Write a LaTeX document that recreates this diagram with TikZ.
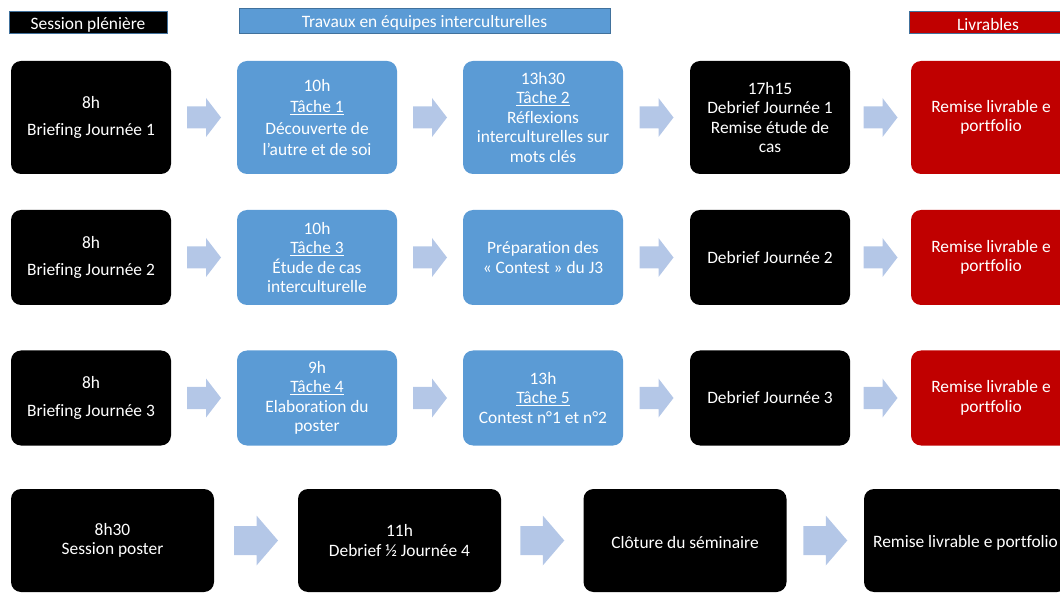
\documentclass[tikz,border=0pt]{standalone}
\usepackage{fontspec}
\setmainfont[Ligatures=CommonOff]{Carlito}
\usetikzlibrary{calc}
\definecolor{bblue}{HTML}{5B9BD5}
\definecolor{bred}{HTML}{C00000}
\definecolor{aarrow}{HTML}{B4C7E7}
\definecolor{hborder}{HTML}{41719C}
\tikzset{
  txt/.style={text=white, align=center, inner sep=0pt, font=\fontsize{17.4}{19.5}\selectfont},
  box/.style={txt, rounded corners=10pt, minimum width=160pt},
  wbox/.style={txt, rounded corners=10pt, minimum width=203pt, minimum height=103pt, fill=black},
  rowA/.style={minimum height=113pt},
  rowB/.style={minimum height=95pt},
  blk/.style={fill=black},
  blu/.style={fill=bblue},
  rd/.style={fill=bred},
  dn/.style={execute at begin node={\rule{0pt}{17pt}}},
  hdr/.style={txt, dn, draw=hborder, line width=0.9pt},
  pics/arrA/.style={code={\fill[aarrow] (-17,-11) -- (2,-11) -- (2,-19.5) -- (17,0) -- (2,19.5) -- (2,11) -- (-17,11) -- cycle;}},
  pics/arrB/.style={code={\fill[aarrow] (-22,-14.5) -- (0.5,-14.5) -- (0.5,-25) -- (22,0) -- (0.5,25) -- (0.5,14.5) -- (-22,14.5) -- cycle;}}
}
\begin{document}
\begin{tikzpicture}[x=1pt,y=-1pt]
\useasboundingbox (0,0) rectangle (1060,593);
\clip (0,0) rectangle (1060,593);
% headers
\node[hdr, fill=black, minimum width=158pt, minimum height=22pt] (h1) at (88,22) {Session plénière};
\node[hdr, fill=bblue, minimum width=371pt, minimum height=25pt] (h2) at (424.5,20.5) {Travaux en équipes interculturelles};
\node[hdr, fill=bred, minimum width=158pt, minimum height=22pt] (h3) at (988,22) {Livrables};
% row 1
\node[box,rowA,blk] (n11) at (91,117.5) {8h\\[8pt]Briefing Journée 1};
\node[box,rowA,blu,font=\fontsize{17.4}{21.5}\selectfont] (n12) at (317,117.5) {10h\\\underline{Tâche 1}\\Découverte de\\l’autre et de soi};
\node[box,rowA,blu] (n13) at (543,117.5) {13h30\\\underline{Tâche 2}\\Réflexions\\interculturelles sur\\mots clés};
\node[box,rowA,blk] (n14) at (770,117.5) {17h15\\Debrief Journée 1\\Remise étude de\\cas};
\node[box,rowA,rd,dn] (n15) at (991,117.5) {Remise livrable e\\portfolio};
% row 2
\node[box,rowB,blk] (n21) at (91,257.5) {8h\\[8pt]Briefing Journée 2};
\node[box,rowB,blu] (n22) at (317,257.5) {10h\\\underline{Tâche 3}\\Étude de cas\\interculturelle};
\node[box,rowB,blu] (n23) at (543,257.5) {Préparation des\\« Contest » du J3};
\node[box,rowB,blk] (n24) at (770,257.5) {Debrief Journée 2};
\node[box,rowB,rd,dn] (n25) at (991,257.5) {Remise livrable e\\portfolio};
% row 3
\node[box,rowB,blk] (n31) at (91,398) {8h\\[8pt]Briefing Journée 3};
\node[box,rowB,blu,dn] (n32) at (317,398) {9h\\\underline{Tâche 4}\\Elaboration du\\poster};
\node[box,rowB,blu] (n33) at (543,398) {13h\\\underline{Tâche 5}\\Contest n°1 et n°2};
\node[box,rowB,blk] (n34) at (770,398) {Debrief Journée 3};
\node[box,rowB,rd,dn] (n35) at (991,398) {Remise livrable e\\portfolio};
% row 4
\node[wbox,dn] (n41) at (112.5,540.5) {8h30\\Session poster};
\node[wbox,dn] (n42) at (399.5,540.5) {11h\\Debrief ½ Journée 4};
\node[wbox,dn] (n43) at (685,540.5) {Clôture du séminaire};
\node[wbox,dn] (n44) at (965.5,540.5) {Remise livrable e portfolio};
% block arrows
\foreach \r in {1,2,3}{
  \path ($(n\r1.east)!0.5!(n\r2.west)$) pic {arrA};
  \path ($(n\r2.east)!0.5!(n\r3.west)$) pic {arrA};
  \path ($(n\r3.east)!0.5!(n\r4.west)$) pic {arrA};
  \path ($(n\r4.east)!0.5!(n\r5.west)$) pic {arrA};
}
\path ($(n41.east)!0.5!(n42.west)$) pic {arrB};
\path ($(n42.east)!0.5!(n43.west)$) pic {arrB};
\path ($(n43.east)!0.5!(n44.west)$) pic {arrB};
\end{tikzpicture}
\end{document}
